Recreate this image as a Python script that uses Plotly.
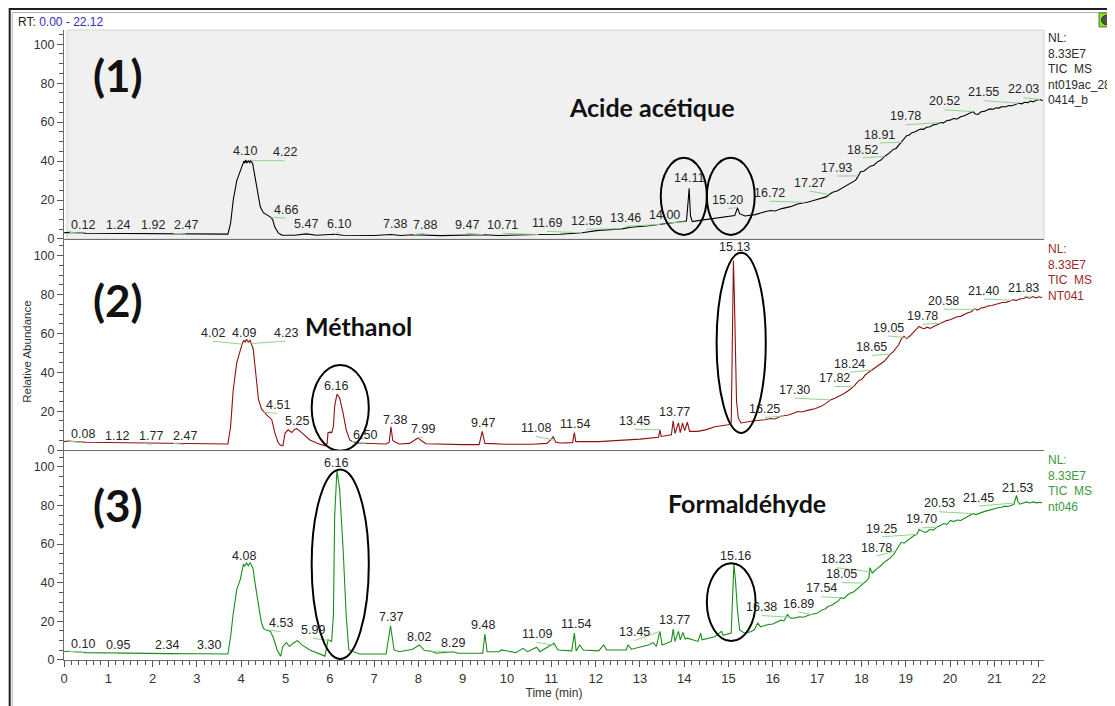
import numpy as np
import plotly.graph_objects as go

# ---------------- data ----------------
RT_RANGE = [0.0, 22.12]

# Panel 1 : Acide acetique (black)
T1 = [0.00, 0.12, 0.5, 1.0, 1.24, 1.5, 1.92, 2.2, 2.47, 3.0, 3.5, 3.70, 3.76, 3.82, 3.90, 3.98, 4.03, 4.06, 4.08,
      4.10, 4.13, 4.16, 4.19, 4.22, 4.26, 4.30, 4.36, 4.43, 4.50, 4.58, 4.66, 4.71, 4.76, 4.84, 4.92, 5.2, 5.47,
      5.7, 6.10, 6.3, 7.0, 7.38, 7.6, 7.88, 8.5, 9.47, 9.8, 10.71, 11.2, 11.69, 12.07, 12.59, 12.8, 13.2, 13.46,
      13.8, 14.00, 14.05, 14.09, 14.11, 14.14, 14.18, 14.31, 14.7, 15.06, 15.14, 15.20, 15.25, 15.37, 15.6,
      15.82, 15.95, 16.05, 16.11, 16.2, 16.3, 16.4, 16.5, 16.56, 16.65, 16.72, 16.8, 16.9, 17.0, 17.1, 17.2,
      17.27, 17.35, 17.45, 17.55, 17.65, 17.75, 17.87, 17.93, 17.98, 18.05, 18.12, 18.2, 18.28, 18.36, 18.44,
      18.52, 18.6, 18.66, 18.72, 18.78, 18.85, 18.91, 18.96, 19.02, 19.08, 19.14, 19.2, 19.27, 19.33, 19.4,
      19.47, 19.55, 19.62, 19.7, 19.78, 19.85, 19.93, 20.0, 20.08, 20.16, 20.24, 20.32, 20.4, 20.47, 20.52,
      20.57, 20.63, 20.7, 20.77, 20.84, 20.9, 20.97, 21.04, 21.1, 21.18, 21.25, 21.32, 21.4, 21.47, 21.55,
      21.62, 21.68, 21.75, 21.82, 21.88, 21.95, 22.03, 22.09]
A1 = [3.2, 3.4, 2.9, 2.8, 2.9, 2.7, 2.8, 2.6, 2.7, 2.5, 2.5, 2.5, 8, 20, 30, 35.5, 38.5, 40, 38.8,
      40.5, 39, 40.3, 39.2, 40.2, 38.5, 33, 25, 16.5, 13.5, 12.4, 11.2, 10, 6, 3, 2, 1.9, 2.6,
      1.9, 2.4, 1.9, 1.8, 2.3, 1.8, 2.2, 1.7, 2.2, 1.8, 2.3, 2.4, 3.2, 4.4, 5.2, 6, 6.8, 7.5,
      8.3, 8.8, 9.2, 20, 26, 12, 8.9, 9.4, 10.5, 11.6, 12, 16, 13, 11.8, 12.5,
      14.0, 14.6, 14.4, 15.0, 15.6, 16.1, 16.6, 17.5, 18.0, 18.3, 18.8, 19.0, 19.6, 20.2, 21.0, 21.6,
      22.8, 24.0, 24.6, 25.9, 27.1, 28.5, 30.2, 32.4, 34.5, 34.8, 36.0, 37.4, 37.9, 39.6, 40.5,
      42.4, 43.6, 44.8, 46.0, 46.5, 48.4, 49.6, 51.5, 53.0, 53.4, 54.6, 54.9, 55.6, 56.4, 56.3,
      57.4, 57.6, 58.6, 58.9, 59.8, 59.6, 60.8, 61.0, 61.8, 61.6, 62.8, 63.3, 64.0, 64.9, 65.4,
      64.2, 64.0, 65.3, 65.5, 66.2, 66.8, 66.6, 67.4, 67.2, 68.0, 67.8, 68.5, 68.4, 69.2, 69.7,
      69.4, 70.2, 70.0, 70.8, 70.4, 71.3, 71.6, 71.0]

# Panel 2 : Methanol (dark red)
T2 = [0.00, 0.08, 0.5, 1.12, 1.5, 1.77, 2.2, 2.47, 3.0, 3.5, 3.70, 3.76, 3.82, 3.90, 3.98, 4.02, 4.06, 4.09, 4.12,
      4.16, 4.20, 4.23, 4.27, 4.31, 4.36, 4.39, 4.46, 4.51, 4.58, 4.69, 4.76, 4.83, 4.88, 4.94, 4.99, 5.06, 5.14,
      5.20, 5.25, 5.30, 5.37, 5.45, 5.55, 5.7, 5.89, 5.94, 5.96, 6.02, 6.04, 6.08, 6.11, 6.16, 6.22, 6.30, 6.37,
      6.45, 6.50, 6.6, 7.0, 7.27, 7.34, 7.38, 7.42, 7.46, 7.57, 7.8, 7.91, 7.99, 8.08, 8.17, 9.0, 9.37, 9.44,
      9.50, 10.0, 10.56, 10.9, 11.00, 11.04, 11.10, 11.2, 11.48, 11.52, 11.55, 12.07, 12.81, 13.0, 13.42, 13.45,
      13.48, 13.71, 13.75, 13.79, 13.87, 13.91, 13.96, 14.01, 14.07, 14.12, 14.31, 14.5, 14.69, 14.8, 14.99,
      15.06, 15.11, 15.13, 15.15, 15.18, 15.22, 15.28,
      15.51, 15.65, 15.82, 15.95, 16.05, 16.18, 16.25, 16.35, 16.45, 16.56, 16.65, 16.75, 16.85, 16.95, 17.01,
      17.1, 17.2, 17.3, 17.4, 17.5, 17.6, 17.7, 17.75, 17.82, 17.88, 17.95, 18.02, 18.08, 18.15, 18.24, 18.3,
      18.38, 18.45, 18.52, 18.6, 18.65, 18.72, 18.78, 18.84, 18.9, 18.96, 19.02, 19.05, 19.1, 19.17, 19.24,
      19.3, 19.36, 19.42, 19.48, 19.55, 19.62, 19.7, 19.78, 19.85, 19.92, 20.0, 20.08, 20.16, 20.24, 20.32,
      20.4, 20.48, 20.55, 20.62, 20.7, 20.78, 20.86, 20.94, 21.02, 21.1, 21.18, 21.26, 21.34, 21.42, 21.5,
      21.58, 21.66, 21.73, 21.8, 21.87, 21.94, 22.01, 22.08]
A2 = [4.3, 4.6, 4.0, 3.8, 3.6, 3.6, 3.4, 3.4, 3.2, 3.1, 3.1, 12, 31, 45, 52, 54.5, 56.5, 55.5, 57,
      55.5, 56.5, 54.8, 52, 43.5, 32, 26, 21, 19.5, 18, 15.6, 8.7, 4, 2.6, 2.2, 8.7, 10.4, 9,
      10.5, 11, 10.2, 8.7, 7, 5.2, 3.6, 2.2, 3.5, 9, 9.2, 8.7, 12, 22.6, 28.7, 27, 19, 10.4,
      5.2, 4.5, 3.6, 3.2, 3.1, 4, 12, 5, 4.3, 3.1, 3.4, 5, 6.2, 4.6, 3.2, 2.8, 2.8, 9.6,
      3.4, 3.0, 3.0, 3.4, 5.5, 7, 4, 3.6, 3.8, 9, 4.3, 4.3, 5.2, 5.6, 6.6, 10.4,
      7, 7.8, 15, 8.5, 13.9, 9, 13.9, 10, 14.3, 9.6, 9.6, 10.5, 12, 12.5, 13,
      13.9, 97.4, 80, 50, 25, 16.5, 13.9,
      14.8, 15.0, 15.6, 16.2, 16.0, 17.4, 17.6, 18.0, 18.8, 19.8, 19.6, 20.4, 20.8, 21.2, 21.7,
      22.6, 24.0, 25.8, 26.7, 27.8, 29.0, 30.5, 31.2, 32.6, 34.2, 35.8, 36.6, 38.5, 39.8, 41.2, 42.5,
      43.4, 44.6, 45.8, 47.9, 49.4, 50.6, 52.5, 54.2, 57.2, 58.5, 57.4, 57.8, 58.8, 60.6, 62.0,
      63.6, 62.8, 62.4, 63.2, 62.6, 63.4, 64.2, 65.3, 65.7, 66.6, 67.0, 67.8, 68.6, 68.8, 69.8,
      70.6, 71.2, 72.6, 72.0, 73.1, 73.4, 74.2, 74.4, 75.1, 75.4, 75.9, 76.0, 76.6, 77.3, 77.0,
      77.8, 78.0, 78.6, 78.2, 79.0, 78.3, 78.9, 78.4]

# Panel 3 : Formaldehyde (green)
T3 = [0.00, 0.10, 0.5, 0.95, 1.5, 2.0, 2.34, 3.0, 3.30, 3.70, 3.76, 3.82, 3.90, 3.98, 4.05, 4.08, 4.12, 4.16,
      4.20, 4.24, 4.27, 4.31, 4.39, 4.45, 4.50, 4.53, 4.66, 4.73, 4.81, 4.89, 4.94, 5.02, 5.09, 5.17, 5.27,
      5.37, 5.55, 5.89, 5.96, 6.04, 6.08, 6.11, 6.16, 6.22, 6.30, 6.37, 6.43, 6.53, 6.67, 7.27, 7.37, 7.45,
      7.57, 7.87, 8.02, 8.14, 8.29, 8.4, 8.78, 8.9, 9.45, 9.50, 9.55, 9.82, 9.87, 10.2, 10.36, 10.46, 10.67,
      10.74, 11.06, 11.15, 11.46, 11.52, 11.56, 11.64, 11.72, 12.07, 12.18, 12.25, 12.69, 12.73, 12.81, 13.19,
      13.30, 13.37, 13.45, 13.50, 13.71, 13.75, 13.79, 13.87, 13.91, 13.97, 14.02, 14.07, 14.31, 14.37, 14.40,
      14.69, 14.84, 14.88, 15.06, 15.12, 15.16, 15.20, 15.25, 15.36,
      15.5, 15.58, 15.66, 15.72, 15.8, 15.9, 16.0, 16.1, 16.18, 16.25, 16.33, 16.4, 16.5, 16.6, 16.7, 16.8,
      16.9, 17.01, 17.1, 17.18, 17.25, 17.32, 17.4, 17.48, 17.54, 17.6, 17.68, 17.75, 17.82, 17.9, 17.98,
      18.05, 18.12, 18.17, 18.19, 18.24, 18.3, 18.38, 18.45, 18.5, 18.58, 18.65, 18.73, 18.8, 18.85, 18.9,
      18.96, 19.03, 19.1, 19.18, 19.25, 19.3, 19.36, 19.42, 19.48, 19.55, 19.62, 19.7, 19.78, 19.86, 19.93,
      20.01, 20.08, 20.16, 20.24, 20.31, 20.38, 20.45, 20.52, 20.58, 20.65, 20.72, 20.8, 20.87, 20.94, 21.0,
      21.08, 21.16, 21.24, 21.3, 21.38, 21.44, 21.5, 21.53, 21.58, 21.65, 21.72, 21.8, 21.88, 21.95, 22.03, 22.08]
A3 = [4.3, 4.5, 3.8, 3.6, 3.4, 3.3, 3.3, 3.2, 3.2, 3.1, 12, 24, 36.5, 41.7, 49.6, 48.6, 50.2, 48.8,
      50.4, 48.7, 47, 40, 27.8, 20, 16.5, 15.8, 14.8, 11.3, 5.2, 2, 7, 9, 7, 8.7, 10,
      7.8, 5.2, 2, 10.4, 9.6, 22.6, 74.8, 98, 88.7, 57.4, 22.6, 5.2, 4.3, 3.1, 3.1, 17.7, 5.2,
      4.3, 5.6, 7.8, 4.9, 4.5, 3.5, 4.3, 3.5, 3.5, 13.4, 4.3, 4.3, 5.2, 3.8, 6, 4.3, 6.6,
      4.3, 8.7, 5.2, 4.7, 13.9, 4.7, 7.8, 5.2, 4.7, 7.8, 5.2, 5.2, 7.8, 5.6, 7.8,
      9, 7, 14.8, 7.8, 9.6, 16, 9.6, 14.8, 10.4, 14.3, 10.8, 11.3, 9.6, 13.9, 10.4,
      12, 14.8, 12.8, 13.9, 49.6, 40, 26, 15.6, 13.9,
      14.6, 15.6, 19.1, 17.2, 17.8, 18.4, 18.6, 19.6, 20.6, 20.2, 23.5, 21.6, 21.8, 22.4, 22.1, 23.2,
      23.6, 24.3, 25.8, 26.4, 27.8, 28.2, 29.5, 30.6, 32.2, 31.8, 33.5, 34.6, 35.2, 36.8, 38.0,
      39.8, 41.0, 42.6, 47.8, 45.0, 46.0, 47.8, 49.0, 50.4, 51.6, 52.8, 54.8, 57.2, 59.6, 61.0,
      60.4, 61.7, 62.8, 64.3, 65.0, 67.6, 66.8, 66.0, 66.4, 67.6, 67.2, 68.7, 69.6, 70.6, 70.2,
      72.2, 71.6, 72.4, 72.2, 73.0, 73.8, 74.6, 75.8, 75.2, 75.9, 76.5, 77.0, 77.4, 78.0, 78.4,
      78.8, 79.0, 79.6, 79.4, 80.2, 80.4, 85.2, 82.0, 80.6, 81.4, 81.8, 81.2, 81.8, 81.3, 81.6, 81.2]

# Peak labels: (text, label centre RT, label centre abundance)
LABELS1 = [("0.12", 0.44, 7.2), ("1.24", 1.21, 7.2), ("1.92", 2.00, 7.2), ("2.47", 2.75, 7.2),
           ("4.10", 4.08, 45), ("4.22", 4.98, 44.5), ("4.66", 5.0, 15), ("5.47", 5.46, 7.6),
           ("6.10", 6.2, 7.6), ("7.38", 7.46, 7.6), ("7.88", 8.14, 7.2), ("9.47", 9.09, 7.2),
           ("10.71", 9.9, 7.2), ("11.69", 10.9, 8.2), ("12.59", 11.8, 9.3), ("13.46", 12.68, 10.8),
           ("14.00", 13.56, 12.4), ("14.11", 14.1, 31.4), ("15.20", 14.98, 20), ("16.72", 15.93, 23.7),
           ("17.27", 16.83, 28.9), ("17.93", 17.44, 36.6), ("18.52", 18.03, 45.9), ("18.91", 18.41, 53.6),
           ("19.78", 19.0, 62.9), ("20.52", 19.88, 70.6), ("21.55", 20.76, 75.3), ("22.03", 21.66, 76.8)]
LABELS2 = [("0.08", 0.42, 8.2), ("1.12", 1.19, 7.2), ("1.77", 1.96, 7.2), ("2.47", 2.72, 7.2),
           ("4.02", 3.36, 60.3), ("4.09", 4.06, 60.3), ("4.23", 5.0, 60.3), ("4.51", 4.82, 23.2),
           ("5.25", 5.25, 15), ("6.16", 6.15, 33), ("6.50", 6.79, 7.7), ("7.38", 7.46, 15.5),
           ("7.99", 8.1, 10.8), ("9.47", 9.45, 14), ("11.08", 10.65, 11.3), ("11.54", 11.53, 13.4),
           ("13.45", 12.88, 15), ("13.77", 13.78, 19.6), ("15.13", 15.14, 104.6), ("16.25", 15.82, 21),
           ("17.30", 16.49, 31), ("17.82", 17.4, 37), ("18.24", 17.74, 44.3), ("18.65", 18.23, 53),
           ("19.05", 18.6, 63), ("19.78", 19.38, 69), ("20.58", 19.86, 76.8), ("21.40", 20.76, 82),
           ("21.83", 21.66, 83.5)]
LABELS3 = [("0.10", 0.44, 8.2), ("0.95", 1.21, 7.7), ("2.34", 2.32, 7.7), ("3.30", 3.27, 7.7),
           ("4.08", 4.06, 54), ("4.53", 4.89, 19), ("5.99", 5.62, 15.5), ("6.16", 6.15, 102),
           ("7.37", 7.39, 22), ("8.02", 8.01, 12), ("8.29", 8.77, 8.8), ("9.48", 9.45, 18),
           ("11.09", 10.67, 13.4), ("11.54", 11.55, 18.6), ("13.45", 12.88, 14.4), ("13.77", 13.78, 20.6),
           ("15.16", 15.16, 53.6), ("16.38", 15.75, 27.3), ("16.89", 16.58, 29), ("17.54", 17.1, 37),
           ("18.05", 17.55, 44.3), ("18.23", 17.44, 52), ("18.78", 18.34, 58), ("19.25", 18.46, 68),
           ("19.70", 19.36, 72.7), ("20.53", 19.75, 81), ("21.45", 20.65, 84), ("21.53", 21.53, 89)]

# Highlight ellipses: (panel, rt0, rt1, ab0, ab1)
ELLIPSES = [(1, 13.47, 14.51, 2.1, 41.7), (1, 14.51, 15.59, 2.1, 41.7),
            (2, 5.59, 6.88, -0.4, 43.8), (2, 14.73, 15.84, 8.8, 101.5),
            (3, 5.59, 6.88, 0.5, 98.5), (3, 14.51, 15.61, 9.8, 50.0)]

# Compound / panel names: (panel, text, rt, abundance, size)
NAMES = [(1, "(1)", 1.23, 84.2, 44), (2, "(2)", 1.23, 77.2, 44), (3, "(3)", 1.23, 80.3, 44),
         (1, "Acide acétique", 13.27, 67.8, 25), (2, "Méthanol", 6.65, 63.8, 25),
         (3, "Formaldéhyde", 15.41, 81.3, 25)]

INFO = ["NL:<br>8.33E7<br>TIC  MS<br>nt019ac_28<br>0414_b",
        "NL:<br>8.33E7<br>TIC  MS<br>NT041",
        "NL:<br>8.33E7<br>TIC  MS<br>nt046"]

COLORS = ["#000000", "#8e1111", "#1a8c1a"]
INFO_COLORS = ["#2b2b2b", "#9a2a2a", "#3c9a3c"]
Y_TOPS = [107.3, 108.1, 108.1]
DOMAINS = [[0.6683, 1.0], [0.3333, 0.6667], [0.0, 0.3317]]

# ---------------- figure ----------------
OFF = 8                      # page body margin of the html page
W, H = 1115 - OFF, 706 - OFF
ML, MR, MT, MB = 64.3 - OFF, 71, 30 - OFF, 46
PW, PH = W - ML - MR, H - MT - MB


def px_x(p):
    """reference-screen x pixel -> paper coordinate"""
    return (p - OFF - ML) / PW


def px_y(p):
    """reference-screen y pixel -> paper coordinate"""
    return (H - MB - (p - OFF)) / PH


fig = go.Figure()
series = [(T1, A1), (T2, A2), (T3, A3)]
for i, (t, a) in enumerate(series):
    sfx = "" if i == 0 else str(i + 1)
    fig.add_trace(go.Scatter(x=t, y=a, mode="lines", xaxis="x" + sfx, yaxis="y" + sfx,
                             line=dict(color=COLORS[i], width=1.1), hoverinfo="skip",
                             showlegend=False))

FONT = "Liberation Sans, Arial, sans-serif"
layout = dict(width=W, height=H, margin=dict(l=ML, r=MR, t=MT, b=MB, autoexpand=False),
              paper_bgcolor="white", plot_bgcolor="rgba(0,0,0,0)", showlegend=False,
              font=dict(family=FONT, size=12, color="#333333"))

for i in range(3):
    sfx = "" if i == 0 else str(i + 1)
    xa = dict(domain=[0, 1], anchor="y" + sfx, range=RT_RANGE, showline=True, linecolor="#6e6e6e",
              linewidth=1, showgrid=False, zeroline=False, fixedrange=True, automargin=False)
    if i == 2:
        xa.update(ticks="outside", ticklen=6, tickcolor="#555555", dtick=1, tick0=0,
                  showticklabels=True, tickfont=dict(size=13, color="#333333", family=FONT),
                  minor=dict(dtick=1 / 6, ticks="outside", ticklen=4, tickcolor="#555555"),
                  title=dict(text="Time (min)", font=dict(size=12, color="#333333"), standoff=2))
    else:
        xa.update(ticks="", showticklabels=False, matches="x3")
    ya = dict(domain=DOMAINS[i], anchor="x" + sfx, range=[0, Y_TOPS[i]], showline=True,
              linecolor="#6e6e6e", linewidth=1, showgrid=False, zeroline=False, ticks="outside",
              ticklen=6, tickcolor="#555555", dtick=20, tick0=0, tickfont=dict(size=12.5, color="#333333"),
              minor=dict(dtick=5, ticks="outside", ticklen=4, tickcolor="#555555"), fixedrange=True,
              automargin=False)
    layout["xaxis" + sfx] = xa
    layout["yaxis" + sfx] = ya

fig.update_layout(**layout)

shapes = []
annotations = []

# grey background of panel 1
shapes.append(dict(type="rect", xref="x domain", yref="y domain", x0=0.003, x1=1, y0=0, y1=1,
                   fillcolor="#f0f0f0", line=dict(color="#d4d4d4", width=1), layer="below"))

# window frame
shapes.append(dict(type="rect", xref="paper", yref="paper", x0=px_x(10), x1=px_x(1125),
                   y0=px_y(720), y1=px_y(9), line=dict(color="#1e1e1e", width=2), layer="below"))
shapes.append(dict(type="rect", xref="paper", yref="paper", x0=px_x(12.5), x1=px_x(1111),
                   y0=px_y(720), y1=px_y(12.5), line=dict(color="#b0b0b0", width=1), layer="below"))
# icon
shapes.append(dict(type="rect", xref="paper", yref="paper", x0=px_x(1099), x1=px_x(1113),
                   y0=px_y(27), y1=px_y(13), fillcolor="#78f000", line=dict(color="#6a6a6a", width=1)))
shapes.append(dict(type="circle", xref="paper", yref="paper", x0=px_x(1101.5), x1=px_x(1110.5),
                   y0=px_y(24.5), y1=px_y(15.5), fillcolor="#505050", line=dict(color="#303030", width=1)))

labels_all = [LABELS1, LABELS2, LABELS3]
for i in range(3):
    sfx = "" if i == 0 else str(i + 1)
    t, a = series[i]
    for text, lx, ly in labels_all[i]:
        pt = float(text)
        if abs(lx - pt) > 0.1:
            py = float(np.interp(pt, t, a))
            shapes.append(dict(type="line", xref="x" + sfx, yref="y" + sfx, x0=lx, y0=ly - 4.3,
                               x1=pt, y1=py, line=dict(color="#8fd48f", width=1)))
        annotations.append(dict(xref="x" + sfx, yref="y" + sfx, x=lx, y=ly, text=text,
                                showarrow=False, xanchor="center", yanchor="middle",
                                font=dict(size=12.5, color="#262626", family=FONT)))
    annotations.append(dict(xref="paper", yref="paper", x=px_x(1046),
                            y=DOMAINS[i][1] + (0.0016 if i == 0 else 0),
                            text=INFO[i], showarrow=False, xanchor="left", yanchor="top", align="left",
                            font=dict(size=12, color=INFO_COLORS[i], family=FONT)))

for panel, r0, r1, a0, a1 in ELLIPSES:
    sfx = "" if panel == 1 else str(panel)
    shapes.append(dict(type="circle", xref="x" + sfx, yref="y" + sfx, x0=r0, x1=r1, y0=a0, y1=a1,
                       line=dict(color="#000000", width=2)))

for panel, text, rt, ab, size in NAMES:
    sfx = "" if panel == 1 else str(panel)
    annotations.append(dict(xref="x" + sfx, yref="y" + sfx, x=rt, y=ab, text="<b>" + text + "</b>",
                            showarrow=False, xanchor="center", yanchor="middle",
                            font=dict(size=size, color="#111111", family="Lato, Open Sans, sans-serif")))

annotations.append(dict(xref="paper", yref="paper", x=px_x(16), y=px_y(22),
                        text="RT: <span style='color:#3030c0'>0.00 - 22.12</span>", showarrow=False,
                        xanchor="left", yanchor="middle", font=dict(size=12, color="#222222", family=FONT)))
annotations.append(dict(xref="paper", yref="paper", x=px_x(27), y=px_y(352), text="Relative Abundance",
                        textangle=-90, showarrow=False, xanchor="center", yanchor="middle",
                        font=dict(size=11.5, color="#333333", family=FONT)))

fig.update_layout(shapes=shapes, annotations=annotations)
fig.write_html("out.html")
